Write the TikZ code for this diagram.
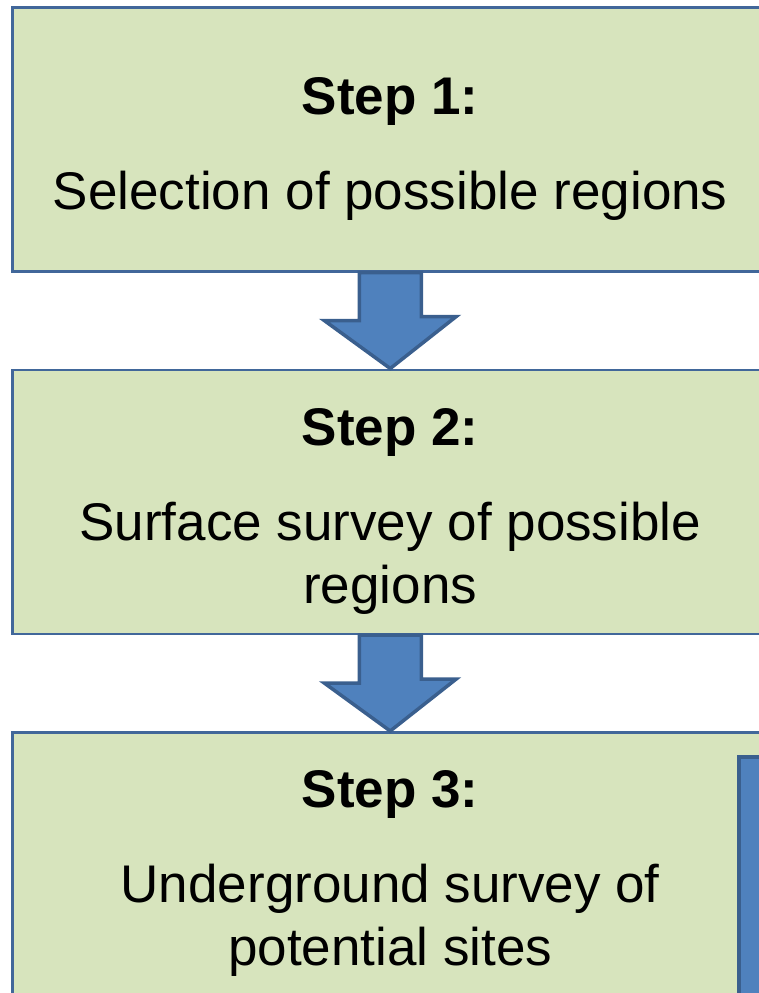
\documentclass[tikz,border=0pt]{standalone}
\usepackage{fontspec}
\setmainfont{Liberation Sans}
\usetikzlibrary{positioning,calc}

\definecolor{boxgreen}{HTML}{D7E4BD}
\definecolor{boxline}{HTML}{41679A}
\definecolor{arrowblue}{HTML}{4F81BD}
\definecolor{arrowline}{HTML}{3A5F8E}

% pushes the text block a little down in its box
\newcommand{\steplift}{\rule{0pt}{56pt}}

\begin{document}
\begin{tikzpicture}[x=1pt,y=-1pt,
  stepbox/.style={draw=boxline, line width=2.5pt, fill=boxgreen,
    minimum width=756pt, minimum height=264pt, inner sep=0pt,
    align=center, font=\fontsize{53}{63}\selectfont},
  steparrow/.style={draw=arrowline, line width=3.5pt, fill=arrowblue, line join=miter}]
\useasboundingbox (0,0) rectangle (759,993);
\clip (0,0) rectangle (759,993);

\node[stepbox, anchor=north west] (step1) at (11,6)
  {\steplift\textbf{Step 1:}\\[32pt]Selection of possible regions};
\node[stepbox, below=96pt of step1] (step2)
  {\steplift\textbf{Step 2:}\\[32pt]Surface survey of possible\\regions};
\node[stepbox, below=96pt of step2] (step3)
  {\steplift\textbf{Step 3:}\\[32pt]Underground survey of\\potential sites};

% block arrows between the steps
\foreach \a/\b in {step1/step2, step2/step3}
  \draw[steparrow] ([xshift=-31pt]\a.south) -- ++(0,48) -- ++(-35,0)
    -- (\b.north) -- ++(66,-52) -- ++(-35,0) -- ([xshift=31pt]\a.south) -- cycle;

\node[draw=arrowline, line width=3.5pt, fill=arrowblue, inner sep=0pt,
  minimum width=60pt, minimum height=260pt, anchor=north west] (side) at (737,755) {};
\end{tikzpicture}
\end{document}
